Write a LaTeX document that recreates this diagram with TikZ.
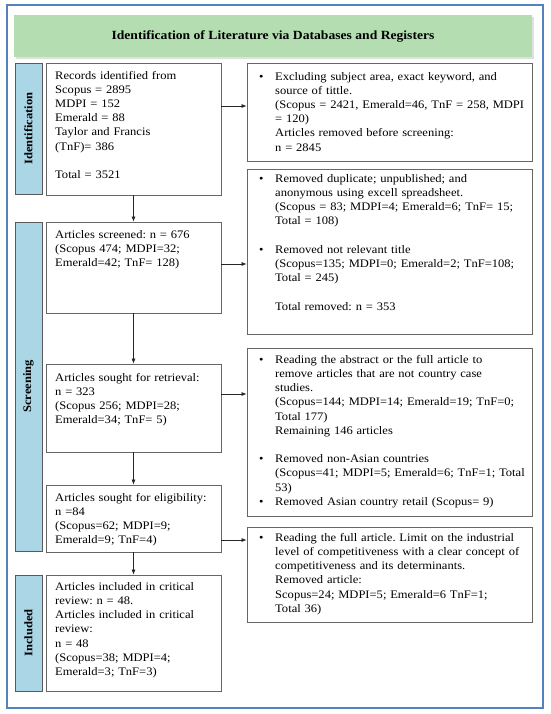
\documentclass[tikz,border=0pt]{standalone}
\usepackage{fontspec}
\setmainfont[FakeStretch=1.09]{Liberation Serif}
\usetikzlibrary{arrows.meta,shadows}
\definecolor{hdr}{RGB}{180,222,178}
\definecolor{barblue}{RGB}{170,214,230}
\definecolor{framecol}{RGB}{84,130,190}
\newcommand{\bul}{\makebox[16pt][l]{\textbullet}}
\newcommand{\ind}{\hspace*{16pt}}
\frenchspacing
\tikzset{
 box/.style={draw=black!60, line width=0.8pt, fill=white, inner sep=0pt},
 sidebar/.style={draw=black!65, line width=0.8pt, fill=barblue, inner sep=0pt,
   drop shadow={shadow xshift=1.2pt, shadow yshift=-1.2pt, fill=black!35, opacity=0.6}},
 txt/.style={anchor=north west, inner sep=0pt, text width=#1, align=left,
   font=\fontsize{11.5}{14.2}\selectfont\frenchspacing},
 arr/.style={draw=black!85, line width=0.7pt, -{Latex[length=5pt,width=4pt]}},
 lab/.style={rotate=90, font=\fontsize{11.5}{13}\selectfont\bfseries}
}
\begin{document}
\begin{tikzpicture}[x=1pt,y=-1pt]
\useasboundingbox (0,0) rectangle (550,714);
\fill[white] (0,0) rectangle (550,714);
\draw[framecol, line width=1.2pt] (7,5) rectangle (543,708);
% header
\node[fill=hdr, inner sep=0pt, minimum width=518pt, minimum height=42pt,
  drop shadow={shadow xshift=2pt, shadow yshift=-2pt, fill=black!30, opacity=0.4}]
  (header) at (273,36) {};
\node[font=\fontsize{12.5}{14}\selectfont\bfseries] (title) at (header.center)
  {Identification of Literature via Databases and Registers};
% side bars
\node[sidebar, minimum width=27pt, minimum height=131pt] (sbid) at (28.5,128.5) {};
\node[lab] (lid) at (sbid.center) {Identification};
\node[sidebar, minimum width=27pt, minimum height=329pt] (sbsc) at (28.5,386.5) {};
\node[lab] (lsc) at (sbsc.center) {Screening};
\node[sidebar, minimum width=27pt, minimum height=116pt] (sbin) at (28.5,633) {};
\node[lab] (lin) at (sbin.center) {Included};
% left boxes
\node[box, minimum width=175pt, minimum height=132pt] (records) at (133.5,129) {};
\node[box, minimum width=175pt, minimum height=91pt] (screened) at (133.5,267.5) {};
\node[box, minimum width=175pt, minimum height=88pt] (retrieval) at (133.5,408) {};
\node[box, minimum width=175pt, minimum height=67pt] (elig) at (133.5,518.5) {};
\node[box, minimum width=175pt, minimum height=116pt] (incl) at (133.5,633) {};
% right boxes
\node[box, minimum width=285pt, minimum height=98pt] (rb1) at (389.5,112) {};
\node[box, minimum width=285pt, minimum height=165pt] (rb2) at (389.5,251.5) {};
\node[box, minimum width=285pt, minimum height=168pt] (rb3) at (389.5,432) {};
\node[box, minimum width=285pt, minimum height=95pt] (rb4) at (389.5,574.5) {};
% left texts
\node[txt=300pt] (trecords) at (55,69.06) {\strut Records identified from\\
Scopus = 2895\\ MDPI = 152\\ Emerald = 88\\ Taylor and Francis\\ (TnF)= 386\\[14.2pt] Total = 3521};
\node[txt=300pt] (tscreened) at (55,228.06) {\strut Articles screened: n = 676\\
(Scopus 474; MDPI=32;\\ Emerald=42; TnF= 128)};
\node[txt=300pt] (tretrieval) at (55,371.06) {\strut Articles sought for retrieval:\\
n = 323\\ (Scopus 256; MDPI=28;\\ Emerald=34; TnF= 5)};
\node[txt=300pt] (telig) at (55,491.06) {\strut Articles sought for eligibility:\\
n =84\\ (Scopus=62; MDPI=9;\\ Emerald=9; TnF=4)};
\node[txt=300pt] (tincl) at (55,580.06) {\strut Articles included in critical\\
review: n = 48.\\ Articles included in critical\\ review:\\ n = 48\\
(Scopus=38; MDPI=4;\\ Emerald=3; TnF=3)};
% right texts
\node[txt=400pt] (trb1) at (259,70.06) {\strut\bul Excluding subject area, exact keyword, and\\
\ind source of tittle.\\
\ind (Scopus = 2421, Emerald=46, TnF = 258, MDPI\\
\ind = 120)\\
\ind Articles removed before screening:\\
\ind n = 2845};
\node[txt=400pt] (trb2) at (259,172.06) {\strut\bul Removed duplicate; unpublished; and\\
\ind anonymous using excell spreadsheet.\\
\ind (Scopus = 83; MDPI=4; Emerald=6; TnF= 15;\\
\ind Total = 108)\\[14.2pt]
\bul Removed not relevant title\\
\ind (Scopus=135; MDPI=0; Emerald=2; TnF=108;\\
\ind Total = 245)\\[14.2pt]
\ind Total removed: n = 353};
\node[txt=400pt] (trb3) at (259,353.06) {\strut\bul Reading the abstract or the full article to\\
\ind remove articles that are not country case\\
\ind studies.\\
\ind (Scopus=144; MDPI=14; Emerald=19; TnF=0;\\
\ind Total 177)\\
\ind Remaining 146 articles\\[14.2pt]
\bul Removed non-Asian countries\\
\ind (Scopus=41; MDPI=5; Emerald=6; TnF=1; Total\\
\ind 53)\\
\bul Removed Asian country retail (Scopus= 9)};
\node[txt=400pt] (trb4) at (259,531.06) {\strut\bul Reading the full article. Limit on the industrial\\
\ind level of competitiveness with a clear concept of\\
\ind competitiveness and its determinants.\\
\ind Removed article:\\
\ind Scopus=24; MDPI=5; Emerald=6 TnF=1;\\
\ind Total 36)};
% arrows
\draw[arr] (records.east |- 0,106) -- (rb1.west |- 0,106);
\draw[arr] (screened.east |- 0,264) -- (rb2.west |- 0,264);
\draw[arr] (retrieval.east |- 0,394) -- (rb3.west |- 0,394);
\draw[arr] (elig.east |- 0,540) -- (rb4.west |- 0,540);
\draw[arr] (records.south) -- (screened.north);
\draw[arr] (screened.south) -- (retrieval.north);
\draw[arr] (retrieval.south) -- (elig.north);
\draw[arr] (elig.south) -- (incl.north);
\end{tikzpicture}
\end{document}
